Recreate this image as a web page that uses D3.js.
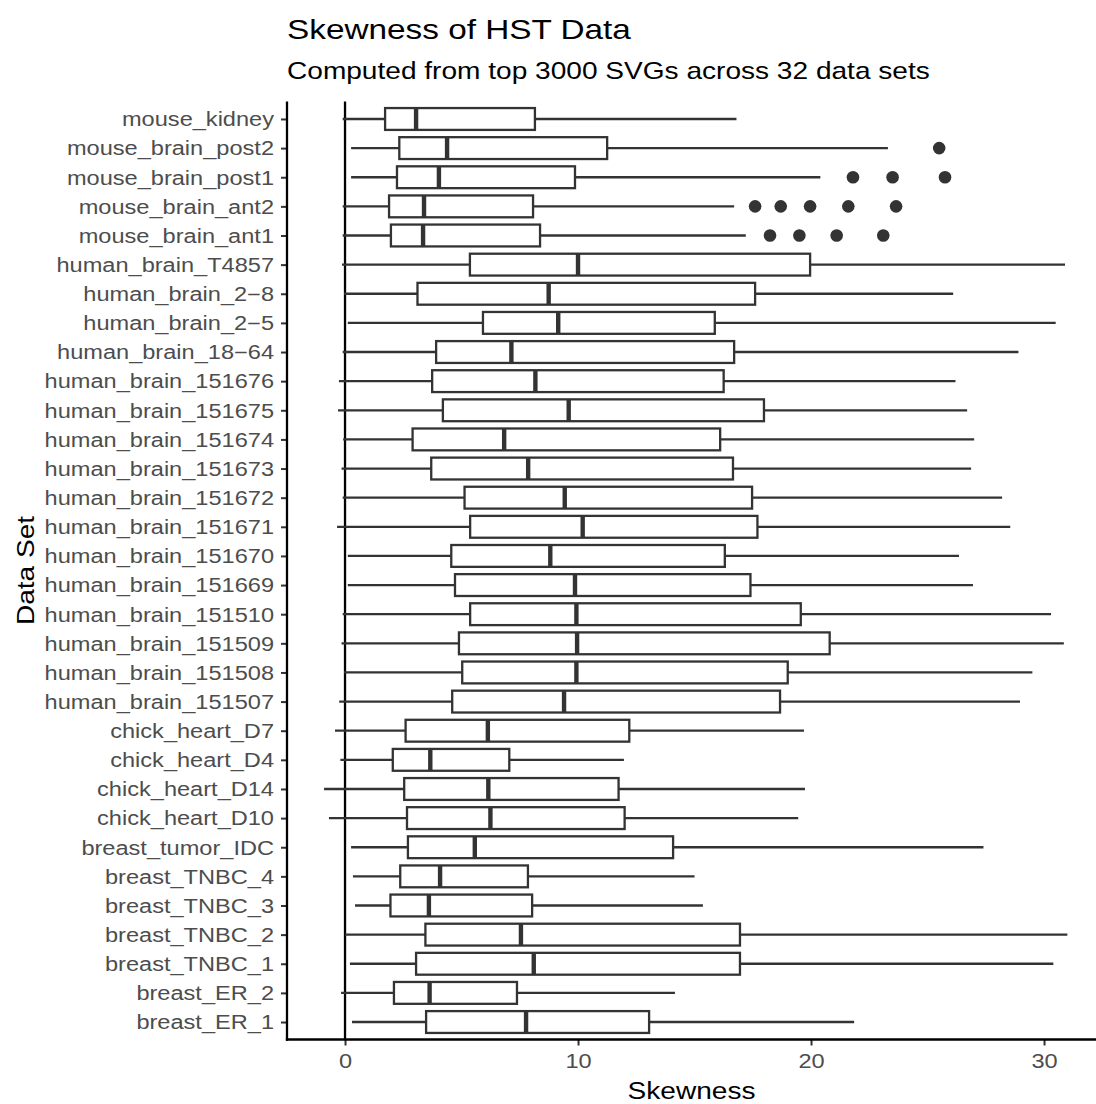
<!DOCTYPE html>
<html>
<head>
<meta charset="utf-8">
<script src="https://cdn.jsdelivr.net/npm/d3@7"></script>
<style>
  html, body { margin: 0; padding: 0; background: #ffffff; }
  text { font-family: "Liberation Sans", Arial, Helvetica, sans-serif; }
</style>
</head>
<body>
<svg id="chart" width="1096" height="1104"></svg>
<script>
// ---- data (bottom to top) ----
const categories = [
  "breast_ER_1","breast_ER_2","breast_TNBC_1","breast_TNBC_2","breast_TNBC_3","breast_TNBC_4",
  "breast_tumor_IDC","chick_heart_D10","chick_heart_D14","chick_heart_D4","chick_heart_D7",
  "human_brain_151507","human_brain_151508","human_brain_151509","human_brain_151510",
  "human_brain_151669","human_brain_151670","human_brain_151671","human_brain_151672",
  "human_brain_151673","human_brain_151674","human_brain_151675","human_brain_151676",
  "human_brain_18-64","human_brain_2-5","human_brain_2-8","human_brain_T4857",
  "mouse_brain_ant1","mouse_brain_ant2","mouse_brain_post1","mouse_brain_post2","mouse_kidney"
];
const whiskerLow = [0.3,-0.17,0.21,0.0,0.43,0.34,0.26,-0.69,-0.9,-0.2,-0.43,
  -0.25,-0.04,-0.15,-0.1,0.12,0.12,-0.34,-0.1,-0.15,-0.08,-0.3,-0.26,
  -0.1,0.12,-0.04,-0.13,-0.1,-0.1,0.26,0.26,-0.1];
const q1Values = [3.48,2.1,3.05,3.45,1.95,2.37,2.7,2.66,2.54,2.05,2.6,
  4.6,5.03,4.89,5.37,4.72,4.56,5.37,5.13,3.7,2.9,4.2,3.74,
  3.91,5.92,3.11,5.36,1.97,1.89,2.23,2.33,1.72];
const medianValues = [7.77,3.63,8.1,7.55,3.6,4.08,5.57,6.24,6.15,3.66,6.13,
  9.4,9.93,9.96,9.93,9.87,8.81,10.2,9.43,7.86,6.83,9.6,8.17,
  7.14,9.15,8.74,10.0,3.35,3.39,4.03,4.38,3.05];
const q3Values = [13.05,7.38,16.95,16.95,8.03,7.85,14.08,12.0,11.74,7.05,12.2,
  18.67,19.0,20.8,19.56,17.4,16.3,17.7,17.47,16.65,16.1,17.98,16.25,
  16.7,15.87,17.6,19.96,8.37,8.07,9.87,11.25,8.15];
const whiskerHigh = [21.85,14.16,30.4,31.0,15.36,15.0,27.4,19.45,19.74,11.97,19.7,
  28.97,29.5,30.85,30.3,26.95,26.35,28.55,28.2,26.87,27.0,26.7,26.2,
  28.9,30.5,26.1,30.9,17.2,16.7,20.4,23.3,16.8];
const outlierCategory = [
  "mouse_brain_post2",
  "mouse_brain_post1","mouse_brain_post1","mouse_brain_post1",
  "mouse_brain_ant2","mouse_brain_ant2","mouse_brain_ant2","mouse_brain_ant2","mouse_brain_ant2",
  "mouse_brain_ant1","mouse_brain_ant1","mouse_brain_ant1","mouse_brain_ant1"
];
const outlierValues = [
  25.5,
  21.8,23.5,25.75,
  17.6,18.7,19.96,21.6,23.65,
  18.24,19.5,21.1,23.1
];
const xTicks = [0,10,20,30];
const titleText = "Skewness of HST Data";
const subtitleText = "Computed from top 3000 SVGs across 32 data sets";
const xTitle = "Skewness";
const yTitle = "Data Set";

// ---- layout ----
const panel = {left: 287, right: 1096, top: 101.5, bottom: 1039.5};
const textStretch = 1.17;
const tickStretch = 1.21;
const ink = "#333333";

const svg = d3.select("#chart");

const x = d3.scaleLinear().domain([-2.49, 32.23]).range([panel.left, panel.right]);
const y = d3.scalePoint().domain(categories).range([panel.bottom, panel.top]).padding(0.6);
const boxH = y.step() * 0.75;

const rows = categories.map((c, i) => ({
  cat: c, lo: whiskerLow[i], q1: q1Values[i], med: medianValues[i], q3: q3Values[i], hi: whiskerHigh[i]
}));
const outliers = outlierValues.map((v, i) => ({cat: outlierCategory[i], v}));

// zero reference line
svg.append("line")
  .attr("x1", x(0)).attr("x2", x(0))
  .attr("y1", panel.top).attr("y2", panel.bottom)
  .attr("stroke", "#000").attr("stroke-width", 2.3);

const g = svg.append("g");
const rowG = g.selectAll("g.row").data(rows).join("g").attr("class", "row");

// whiskers
rowG.append("line")
  .attr("x1", d => x(d.lo)).attr("x2", d => x(d.q1))
  .attr("y1", d => y(d.cat)).attr("y2", d => y(d.cat))
  .attr("stroke", ink).attr("stroke-width", 2.3);
rowG.append("line")
  .attr("x1", d => x(d.q3)).attr("x2", d => x(d.hi))
  .attr("y1", d => y(d.cat)).attr("y2", d => y(d.cat))
  .attr("stroke", ink).attr("stroke-width", 2.3);
// boxes
rowG.append("rect")
  .attr("x", d => x(d.q1)).attr("width", d => x(d.q3) - x(d.q1))
  .attr("y", d => y(d.cat) - boxH / 2).attr("height", boxH)
  .attr("fill", "#ffffff").attr("stroke", ink).attr("stroke-width", 2.3);
// medians
rowG.append("line")
  .attr("x1", d => x(d.med)).attr("x2", d => x(d.med))
  .attr("y1", d => y(d.cat) - boxH / 2).attr("y2", d => y(d.cat) + boxH / 2)
  .attr("stroke", ink).attr("stroke-width", 4.4);

// outliers
g.selectAll("circle.out").data(outliers).join("circle")
  .attr("class", "out")
  .attr("cx", d => x(d.v)).attr("cy", d => y(d.cat))
  .attr("r", 6.3).attr("fill", ink);

// ---- axes ----
const yAxis = d3.axisLeft(y).tickSize(6).tickPadding(6)
  .tickFormat(d => d.replace(/-/g, "\u2212"));
const yG = svg.append("g").attr("transform", `translate(${panel.left},0)`).call(yAxis);
yG.select(".domain").remove();
yG.selectAll(".tick line").attr("stroke", ink).attr("stroke-width", 2);
yG.selectAll(".tick text")
  .attr("fill", "#4d4d4d").attr("font-size", 19.5)
  .attr("dy", "0.35em")
  .attr("transform", `translate(-13,0) scale(${tickStretch},1)`)
  .attr("x", 0);

const xAxis = d3.axisBottom(x).tickValues(xTicks).tickFormat(d3.format("d")).tickSize(6).tickPadding(6);
const xG = svg.append("g").attr("transform", `translate(0,${panel.bottom})`).call(xAxis);
xG.select(".domain").remove();
xG.selectAll(".tick line").attr("stroke", ink).attr("stroke-width", 2);
xG.selectAll(".tick text")
  .attr("fill", "#4d4d4d").attr("font-size", 19.5)
  .attr("dy", null).attr("y", 0)
  .attr("transform", `translate(0,28.5) scale(${tickStretch},1)`);

// axis lines
svg.append("line").attr("x1", panel.left).attr("x2", panel.left)
  .attr("y1", panel.top).attr("y2", panel.bottom + 1.15)
  .attr("stroke", "#000").attr("stroke-width", 2.3);
svg.append("line").attr("x1", panel.left - 1.15).attr("x2", panel.right)
  .attr("y1", panel.bottom).attr("y2", panel.bottom)
  .attr("stroke", "#000").attr("stroke-width", 2.3);

// titles
svg.append("text")
  .attr("transform", `translate(${panel.left},39) scale(${textStretch},1)`)
  .attr("font-size", 28.5).attr("fill", "#000").text(titleText);
svg.append("text")
  .attr("transform", `translate(${panel.left},79) scale(${textStretch},1)`)
  .attr("font-size", 24).attr("fill", "#000").text(subtitleText);
svg.append("text")
  .attr("transform", `translate(${(panel.left + panel.right) / 2},1099) scale(${textStretch},1)`)
  .attr("text-anchor", "middle")
  .attr("font-size", 24).attr("fill", "#000").text(xTitle);
svg.append("text")
  .attr("transform", `translate(34,${(panel.top + panel.bottom) / 2}) rotate(-90) scale(${textStretch},1)`)
  .attr("text-anchor", "middle")
  .attr("font-size", 24).attr("fill", "#000").text(yTitle);
</script>
</body>
</html>
